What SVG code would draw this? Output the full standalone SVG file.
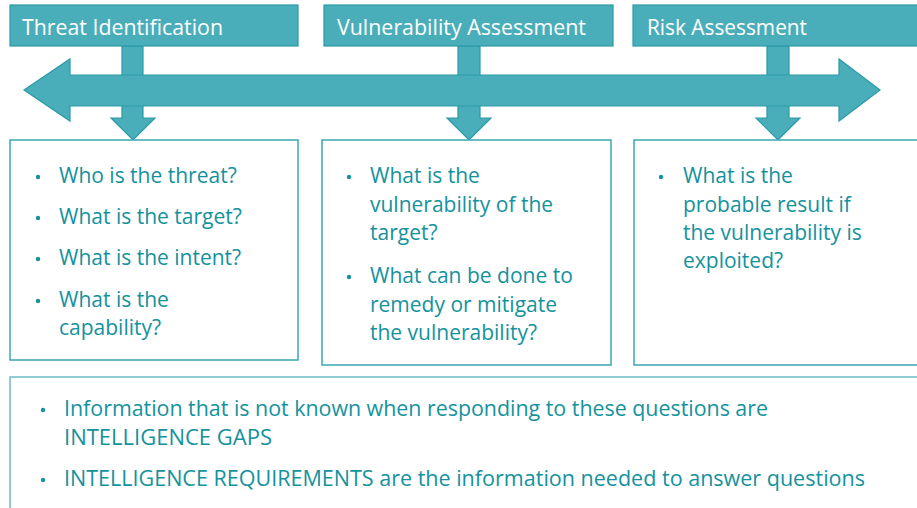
<svg xmlns="http://www.w3.org/2000/svg" width="917" height="508" viewBox="0 0 917 508">
<style>
.arrow{fill:#4aaeba;stroke:#2a9aa6;stroke-width:1.2;stroke-linejoin:miter}
.title{fill:#4aaeba;stroke:#2a9aa6;stroke-width:1.2}
.ttext{font-family:"Open Sans","Noto Sans",sans-serif;font-size:21px;fill:#ffffff}
.box{fill:#ffffff;stroke:#3aa6b2;stroke-width:1.5}
.bbox{fill:#ffffff;stroke:#6cbcc5;stroke-width:1.5}
.btext{font-family:"Open Sans","Noto Sans",sans-serif;font-size:21px;fill:#14929d}
.dot{fill:#14929d}
</style>
<rect width="917" height="508" fill="#ffffff"/>
<g id="connectors">
<polygon class="arrow" points="122,46 143,46 143,118 155,118 133,140 111,118 122,118"/>
<polygon class="arrow" points="458,46 480,46 480,118 491,118 469,140 447,118 458,118"/>
<polygon class="arrow" points="767,46 789,46 789,118 800,118 778,140 756,118 767,118"/>
<polygon class="arrow" points="24,90 70,59 70,75 839,75 839,59 880,90 839,121 839,106 70,106 70,121"/>
</g>
<g id="title-threat">
<rect class="title" x="10" y="5" width="288" height="41"/>
<text class="ttext" x="22" y="35" textLength="201" lengthAdjust="spacingAndGlyphs">Threat Identification</text>
</g>
<g id="title-vulnerability">
<rect class="title" x="324" y="5" width="289" height="41"/>
<text class="ttext" x="337" y="35" textLength="249" lengthAdjust="spacingAndGlyphs">Vulnerability Assessment</text>
</g>
<g id="title-risk">
<rect class="title" x="633" y="5" width="300" height="41"/>
<text class="ttext" x="647" y="35" textLength="160" lengthAdjust="spacingAndGlyphs">Risk Assessment</text>
</g>
<g id="box-threat">
<rect class="box" x="10" y="140" width="288" height="220"/>
<circle class="dot" cx="38" cy="177" r="2.2"/>
<text class="btext" x="59" y="183">Who is the threat?</text>
<circle class="dot" cx="38" cy="218" r="2.2"/>
<text class="btext" x="59" y="224">What is the target?</text>
<circle class="dot" cx="38" cy="259" r="2.2"/>
<text class="btext" x="59" y="265">What is the intent?</text>
<circle class="dot" cx="38" cy="301" r="2.2"/>
<text class="btext" x="59" y="307">What is the</text>
<text class="btext" x="59" y="335">capability?</text>
</g>
<g id="box-vulnerability">
<rect class="box" x="322" y="140" width="289" height="225"/>
<circle class="dot" cx="349" cy="177" r="2.2"/>
<text class="btext" x="370" y="183">What is the</text>
<text class="btext" x="370" y="212">vulnerability of the</text>
<text class="btext" x="370" y="240">target?</text>
<circle class="dot" cx="349" cy="277" r="2.2"/>
<text class="btext" x="370" y="283">What can be done to</text>
<text class="btext" x="370" y="312">remedy or mitigate</text>
<text class="btext" x="370" y="340">the vulnerability?</text>
</g>
<g id="box-risk">
<rect class="box" x="634" y="140" width="300" height="225"/>
<circle class="dot" cx="661" cy="177" r="2.2"/>
<text class="btext" x="683" y="183">What is the</text>
<text class="btext" x="683" y="212">probable result if</text>
<text class="btext" x="683" y="240">the vulnerability is</text>
<text class="btext" x="683" y="268">exploited?</text>
</g>
<g id="box-intelligence">
<rect class="bbox" x="10" y="377" width="930" height="160"/>
<circle class="dot" cx="43" cy="410" r="2.2"/>
<text class="btext" x="64" y="416" textLength="704" lengthAdjust="spacingAndGlyphs">Information that is not known when responding to these questions are</text>
<text class="btext" x="64" y="445" textLength="208" lengthAdjust="spacingAndGlyphs">INTELLIGENCE GAPS</text>
<circle class="dot" cx="43" cy="480" r="2.2"/>
<text class="btext" x="64" y="486" textLength="801" lengthAdjust="spacingAndGlyphs">INTELLIGENCE REQUIREMENTS are the information needed to answer questions</text>
</g>
</svg>
